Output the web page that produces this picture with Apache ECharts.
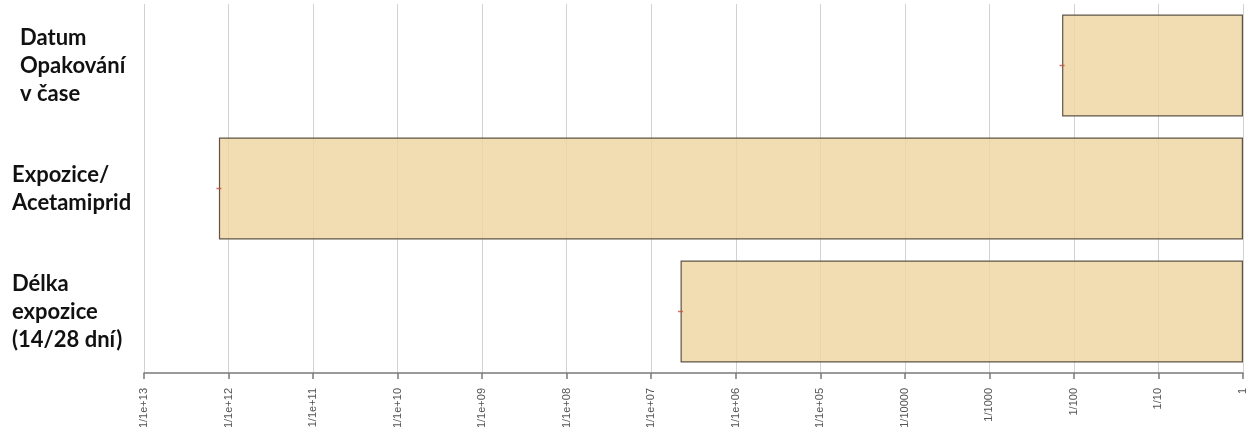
<!DOCTYPE html>
<html>
<head>
<meta charset="utf-8">
<script src="https://cdn.jsdelivr.net/npm/echarts@6/dist/echarts.min.js"></script>
<style>
  html, body { margin: 0; padding: 0; background: #fff; }
  #chart { width: 1246px; height: 427px; }
</style>
</head>
<body>
<div id="chart"></div>
<script>
// Rows, top to bottom
const categories = ['Datum\nOpakování\nv čase', 'Expozice/\nAcetamiprid', 'Délka\nexpozice\n(14/28 dní)'];
// Lower end of each range, given as the denominator N of 1/N; every range runs up to 1
const lowerDenominators = [138, 1.3e12, 4.5e6];
// Tick labels for the decades 1/1e+13 ... 1
const tickLabels = ['1/1e+13', '1/1e+12', '1/1e+11', '1/1e+10', '1/1e+09', '1/1e+08', '1/1e+07',
  '1/1e+06', '1/1e+05', '1/10000', '1/1000', '1/100', '1/10', '1'];

// Position on the axis is log10 of the ratio (0 = 1, -13 = 1/1e+13)
const lowerExp = lowerDenominators.map(d => -Math.log10(d));

const labelFont = 'Lato, Open Sans, sans-serif';

const chart = echarts.init(document.getElementById('chart'), null, { renderer: 'canvas' });
chart.setOption({
  animation: false,
  backgroundColor: '#ffffff',
  grid: { left: 144, right: 3, top: 4, bottom: 54, outerBoundsMode: 'none', containLabel: false },
  xAxis: {
    type: 'value',
    min: -13,
    max: 0,
    interval: 1,
    axisLine: { show: true, lineStyle: { color: '#7a7a7a', width: 1.5 } },
    axisTick: { show: true, length: 6, lineStyle: { color: '#7a7a7a', width: 1.5 } },
    axisLabel: {
      rotate: 90,
      margin: 15,
      fontFamily: 'Liberation Sans, Arial, sans-serif',
      fontSize: 11,
      color: '#555555',
      showMaxLabel: true,
      hideOverlap: false,
      formatter: v => tickLabels[Math.round(v) + 13]
    },
    splitLine: { show: true, lineStyle: { color: '#d2d2d2', width: 1 } }
  },
  yAxis: {
    type: 'category',
    inverse: true,
    data: categories,
    axisLine: { show: false },
    axisTick: { show: false },
    splitLine: { show: false },
    axisLabel: {
      align: 'left',
      margin: 132,
      formatter: (v, i) => i === 0 ? v.split('\n').map(s => '{d|' + s + '}').join('\n') : v,
      fontFamily: labelFont,
      fontWeight: 'bold',
      fontSize: 22,
      lineHeight: 28,
      color: '#111111',
      rich: {
        d: {
          fontFamily: labelFont,
          fontWeight: 'bold',
          fontSize: 22,
          lineHeight: 28,
          color: '#111111',
          padding: [0, 0, 0, 8]
        }
      }
    }
  },
  series: [
    {
      type: 'bar',
      data: lowerExp,
      barWidth: 102,
      itemStyle: {
        color: 'rgba(239, 212, 161, 0.82)',
        borderColor: '#5e5546',
        borderWidth: 1.2
      },
      z: 2
    },
    {
      type: 'scatter',
      data: lowerExp.map((x, i) => [x, i]),
      symbol: 'rect',
      symbolSize: [5, 1.5],
      itemStyle: { color: '#c8503c' },
      z: 3
    }
  ]
});
</script>
</body>
</html>
